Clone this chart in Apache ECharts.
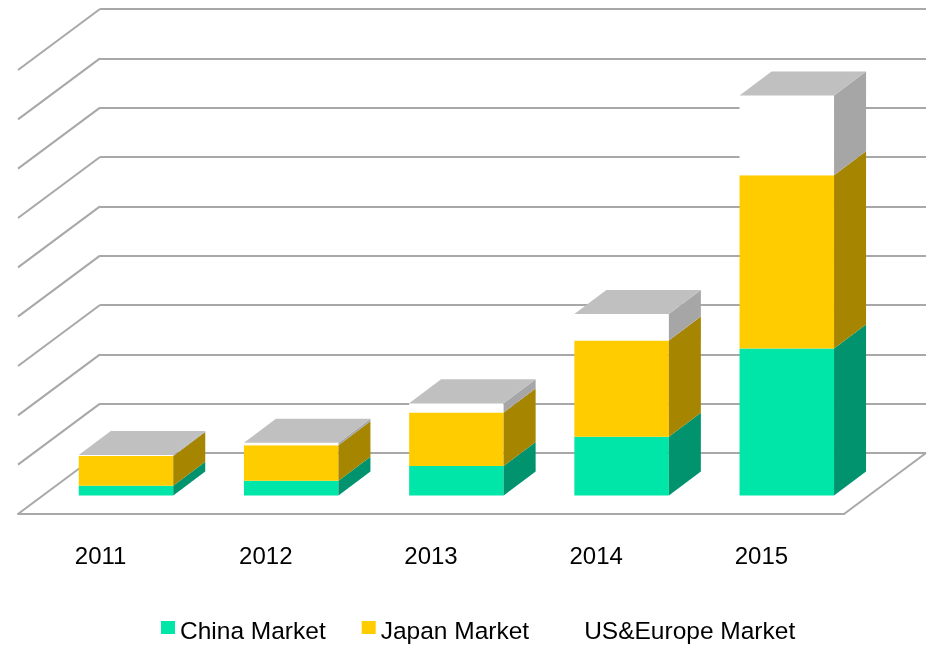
<!DOCTYPE html>
<html>
<head>
<meta charset="utf-8">
<style>html,body{margin:0;padding:0;background:#fff}#c{width:930px;height:646px}</style>
<script src="https://cdn.jsdelivr.net/npm/echarts@6/dist/echarts.min.js"></script>
</head>
<body>
<div id="c"></div>
<script>
const years = ['2011', '2012', '2013', '2014', '2015'];
const china = [0.2, 0.3, 0.6, 1.19, 2.98];
const japan = [0.6, 0.72, 1.08, 1.95, 3.51];
const usEurope = [0.02, 0.05, 0.19, 0.54, 1.62];
const gridTicks = [0, 1, 2, 3, 4, 5, 6, 7, 8, 9];

const FRONT = ['#00E6A8', '#FFCC00', '#FFFFFF'];
const SIDE = ['#00936E', '#A68500', '#A6A6A6'];
const CAP = '#C0C0C0';
const LINE = '#A8A8A8';

// Projection of the chart's depth axis, in pixels.
const FLOOR_DX = 82, FLOOR_DY = 61;         // back wall -> front edge of floor
const BAR_DX = 56.6, BAR_DY = 42.5;         // back wall -> bar front face
const DEPTH_DX = 32, DEPTH_DY = 24;         // bar front face -> bar back face
const BAR_RATIO = 0.572;

function stackRows(values, below) {
  return values.map((v, i) => {
    const base = below.reduce((s, arr) => s + arr[i], 0);
    return [i, base, base + v];
  });
}

function barRenderer(k, withCap) {
  return function (params, api) {
    const i = api.value(0);
    const a = api.coord([i, api.value(1)]);
    const b = api.coord([i, api.value(2)]);
    const w = api.size([1, 0])[0] * BAR_RATIO;
    const l = a[0] - BAR_DX - w / 2, r = l + w;
    const y0 = a[1] + BAR_DY, y1 = b[1] + BAR_DY;
    const children = [
      { type: 'polygon', shape: { points: [[l, y0], [r, y0], [r, y1], [l, y1]] }, style: { fill: FRONT[k] } },
      { type: 'polygon', shape: { points: [[r, y0], [r + DEPTH_DX, y0 - DEPTH_DY], [r + DEPTH_DX, y1 - DEPTH_DY], [r, y1]] }, style: { fill: SIDE[k] } }
    ];
    if (withCap) {
      children.push({ type: 'polygon', shape: { points: [[l, y1], [r, y1], [r + DEPTH_DX, y1 - DEPTH_DY], [l + DEPTH_DX, y1 - DEPTH_DY]] }, style: { fill: CAP } });
    }
    return { type: 'group', children };
  };
}

function wallRenderer(params, api) {
  const p = api.coord([0, api.value(0)]);
  const x = p[0] - api.size([1, 0])[0] / 2;
  return { type: 'line', shape: { x1: x, y1: p[1], x2: x - FLOOR_DX, y2: p[1] + FLOOR_DY }, style: { stroke: LINE, lineWidth: 2 } };
}

function floorRenderer(params, api) {
  const p = api.coord([years.length - 1, 0]);
  const x = p[0] + api.size([1, 0])[0] / 2;
  return { type: 'line', shape: { x1: x, y1: p[1], x2: x - FLOOR_DX, y2: p[1] + FLOOR_DY }, style: { stroke: LINE, lineWidth: 2 } };
}

const chart = echarts.init(document.getElementById('c'), null, { renderer: 'canvas' });
chart.setOption({
  animation: false,
  backgroundColor: '#fff',
  color: FRONT,
  textStyle: { fontFamily: '"Liberation Sans", sans-serif' },
  grid: [
    { left: 100, right: 4, top: 9, bottom: 193 },
    { left: 18, right: 86, top: 70, bottom: 132 }
  ],
  xAxis: [
    { type: 'category', gridIndex: 0, data: years, axisLine: { show: false }, axisTick: { show: false }, axisLabel: { show: false } },
    { type: 'category', gridIndex: 1, data: years, axisLine: { show: true, lineStyle: { color: LINE, width: 2 } }, axisTick: { show: false },
      axisLabel: { margin: 31, fontSize: 24, color: '#000' } }
  ],
  yAxis: [
    { type: 'value', gridIndex: 0, min: 0, max: 9, interval: 1, axisLine: { show: false }, axisTick: { show: false }, axisLabel: { show: false },
      splitLine: { show: true, lineStyle: { color: LINE, width: 2 } } },
    { type: 'value', gridIndex: 1, min: 0, max: 9, interval: 1, show: false, splitLine: { show: false } }
  ],
  legend: {
    data: ['China Market', 'Japan Market', 'US&Europe Market'],
    left: 161, top: 620,
    itemWidth: 14, itemHeight: 13, itemGap: 36, padding: 0,
    icon: 'rect',
    formatter: '{t|{name}}',
    textStyle: { rich: { t: { fontSize: 24.5, color: '#000', fontFamily: '"Liberation Sans", sans-serif', padding: [10, 0, 0, 0] } } }
  },
  series: [
    { type: 'custom', name: 'walls', silent: true, z: 1, xAxisIndex: 0, yAxisIndex: 0, coordinateSystem: 'cartesian2d',
      data: gridTicks.map(v => [v]), encode: { y: 0 }, renderItem: wallRenderer },
    { type: 'custom', name: 'floor', silent: true, z: 1, xAxisIndex: 0, yAxisIndex: 0,
      data: [[0]], encode: { y: 0 }, renderItem: floorRenderer },
    { type: 'custom', name: 'China Market', z: 3, xAxisIndex: 0, yAxisIndex: 0, itemStyle: { color: FRONT[0] },
      data: stackRows(china, []), encode: { x: 0, y: [1, 2] }, renderItem: barRenderer(0, false) },
    { type: 'custom', name: 'Japan Market', z: 3, xAxisIndex: 0, yAxisIndex: 0, itemStyle: { color: FRONT[1] },
      data: stackRows(japan, [china]), encode: { x: 0, y: [1, 2] }, renderItem: barRenderer(1, false) },
    { type: 'custom', name: 'US&Europe Market', z: 3, xAxisIndex: 0, yAxisIndex: 0, itemStyle: { color: FRONT[2] },
      data: stackRows(usEurope, [china, japan]), encode: { x: 0, y: [1, 2] }, renderItem: barRenderer(2, true) },
    // the front plane's axis needs a series on its own grid to be laid out
    { type: 'custom', name: 'front', silent: true, xAxisIndex: 1, yAxisIndex: 1, data: [], renderItem: function () { return null; } }
  ]
});
</script>
</body>
</html>
